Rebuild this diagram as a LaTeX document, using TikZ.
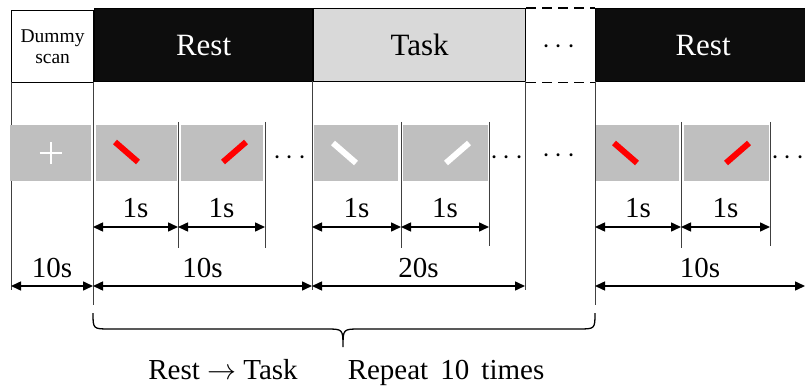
\RequirePackage{fix-cm}
\documentclass[tikz,border=0pt]{standalone}
\usepackage{fontspec}
\setmainfont{Liberation Serif}
\usetikzlibrary{arrows.meta,calc}
\definecolor{hdrblack}{HTML}{0D0D0D}
\definecolor{taskgray}{HTML}{D9D9D9}
\definecolor{stimgray}{HTML}{BFBFBF}
\definecolor{barred}{HTML}{FF0000}
\tikzset{
  hdr/.style={draw=black, line width=1.2pt, inner sep=0pt, anchor=north west},
  stim/.style={fill=stimgray, draw=none, inner sep=0pt, anchor=north west, minimum height=56pt},
  vline/.style={draw=black!75, line width=1pt},
  dim/.style={line width=1.5pt, {Triangle[length=10pt,width=9pt]}-{Triangle[length=10pt,width=9pt]}},
  lbl/.style={font=\fontsize{29}{32}\selectfont, inner sep=0pt, anchor=base, yshift=9pt},
  dots/.style={font=\fontsize{29}{32}\selectfont, inner sep=0pt, anchor=base},
  stimbar/.style={line width=6pt},
}
\begin{document}
\begin{tikzpicture}[x=1pt,y=-1pt]
\useasboundingbox (0,0) rectangle (805,387);
% header
\node[hdr, fill=white, minimum width=82pt, minimum height=72pt, align=center,
      font=\fontsize{19.5}{21}\selectfont] (dummy) at (11,10) {Dummy\\scan};
\node[hdr, fill=hdrblack, text=white, minimum width=218pt, minimum height=73pt,
      font=\fontsize{31}{34}\selectfont] (rest1) at (94,8) {Rest};
\node[hdr, fill=taskgray, minimum width=212pt, minimum height=73pt,
      font=\fontsize{31}{34}\selectfont] (task) at (313,8) {Task};
\node[hdr, fill=hdrblack, text=white, minimum width=215pt, minimum height=73pt,
      font=\fontsize{31}{34}\selectfont] (rest2) at (595,8) {Rest};
\draw[line width=1.2pt, dash pattern=on 10pt off 6pt] (task.north east) -- (rest2.north west);
\draw[line width=1.2pt, dash pattern=on 10pt off 6pt] (task.south east) -- (rest2.south west);
\node[dots] (hdots) at (559,54) {$\cdots$};

% long vertical lines
\coordinate (v0t) at (11,82);  \coordinate (v0b) at (11,290);
\coordinate (v1t) at (93,82);  \coordinate (v1b) at (93,305);
\coordinate (v2t) at (312,81); \coordinate (v2b) at (312,290);
\coordinate (v3t) at (525,81); \coordinate (v3b) at (525,290);
\coordinate (v4t) at (595,81); \coordinate (v4b) at (595,305);
\foreach \i in {0,...,4} { \draw[vline] (v\i t) -- (v\i b); }

% stimulus boxes
\node[stim, minimum width=81pt] (s0) at (10,125) {};
\node[stim, minimum width=81pt] (s1) at (96,125) {};
\node[stim, minimum width=82pt] (s2) at (181,125) {};
\node[stim, minimum width=84pt] (s3) at (314,125) {};
\node[stim, minimum width=85pt] (s4) at (403,125) {};
\node[stim, minimum width=83pt] (s5) at (596,125) {};
\node[stim, minimum width=85pt] (s6) at (684,125) {};

% short separators
\coordinate (p1t) at (178,122); \coordinate (p1b) at (178,248);
\coordinate (p2t) at (265,122); \coordinate (p2b) at (265,248);
\coordinate (p3t) at (401,122); \coordinate (p3b) at (401,248);
\coordinate (p4t) at (489,122); \coordinate (p4b) at (489,246);
\coordinate (p5t) at (681,122); \coordinate (p5b) at (681,248);
\coordinate (p6t) at (770,122); \coordinate (p6b) at (770,246);
\foreach \i in {1,...,6} { \draw[vline] (p\i t) -- (p\i b); }

% fixation cross
\draw[white, line width=2pt] ($(s0.center)+(-11,0)$) -- ($(s0.center)+(11,0)$);
\draw[white, line width=2pt] ($(s0.center)+(0,-11)$) -- ($(s0.center)+(0,11)$);

% bars
\draw[stimbar, barred] (115,142) -- (138,162);
\draw[stimbar, barred] (223,162) -- (246,142);
\draw[stimbar, white] (333,143) -- (356,163);
\draw[stimbar, white] (446,163) -- (469,143);
\draw[stimbar, barred] (614,143) -- (637,163);
\draw[stimbar, barred] (726,163) -- (749,143);

% dots in stimulus row
\node[dots] (d1) at (290,165) {$\cdots$};
\node[dots] (d2) at (507,165) {$\cdots$};
\node[dots] (d3) at (559,163) {$\cdots$};
\node[dots] (d4) at (788,165) {$\cdots$};

% 1s arrows
\coordinate (a1) at (93,227);  \coordinate (a2) at (178,227); \coordinate (a3) at (265,227);
\coordinate (b1) at (312,227); \coordinate (b2) at (401,227); \coordinate (b3) at (489,227);
\coordinate (c1) at (595,227); \coordinate (c2) at (681,227); \coordinate (c3) at (770,227);
\draw[dim] (a1) -- node[lbl] {1s} (a2);
\draw[dim] (a2) -- node[lbl] {1s} (a3);
\draw[dim] (b1) -- node[lbl] {1s} (b2);
\draw[dim] (b2) -- node[lbl] {1s} (b3);
\draw[dim] (c1) -- node[lbl] {1s} (c2);
\draw[dim] (c2) -- node[lbl] {1s} (c3);

% long arrows
\coordinate (e0) at (11,286);  \coordinate (e1) at (93,286); \coordinate (e2) at (312,286);
\coordinate (e3) at (525,286); \coordinate (e4) at (595,286); \coordinate (e5) at (805,286);
\draw[dim] (e0) -- node[lbl] {10s} (e1);
\draw[dim] (e1) -- node[lbl] {10s} (e2);
\draw[dim] (e2) -- node[lbl] {20s} (e3);
\draw[dim] (e4) -- node[lbl] {10s} (e5);

% brace
\coordinate (brL) at (93,313);
\coordinate (brR) at (595,313);
\coordinate (brT) at (343,347);
\draw[line width=1.3pt] (brL) .. controls (93,329) .. (110,329) -- (326,329)
   .. controls (343,329) .. (brT) .. controls (343,329) .. (360,329) -- (578,329)
   .. controls (595,329) .. (brR);

\node[font=\fontsize{29}{32}\selectfont, inner sep=0pt, anchor=base] (t1) at (223,379) {Rest $\rightarrow$ Task};
\node[font=\fontsize{29}{32}\selectfont, inner sep=0pt, anchor=base] (t2) at (446,379) {Repeat\, 10\, times};
\end{tikzpicture}
\end{document}
